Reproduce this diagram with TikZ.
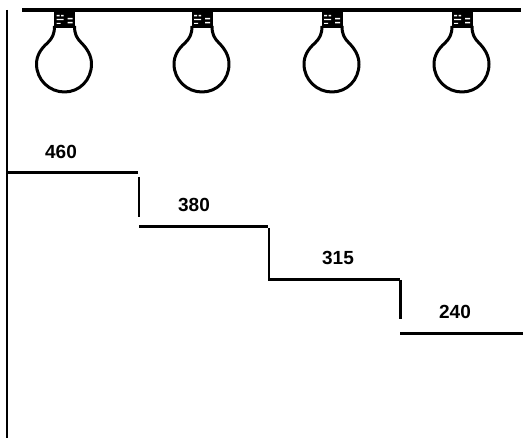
\documentclass[tikz,border=0pt]{standalone}
\usepackage{fontspec}
\setmainfont{Liberation Sans}
\usetikzlibrary{positioning}
\tikzset{
  rail/.style={draw=black, line width=3.6pt},
  axisline/.style={draw=black, line width=2.6pt},
  tread/.style={draw=black, line width=3pt},
  riser/.style={draw=black, line width=2.2pt},
  val/.style={font=\fontsize{19}{19}\selectfont\bfseries, inner sep=0pt},
  bulb/.pic={
    \fill[black] (-10.5,0) rectangle (10.5,17);
    \fill[white] (-8,4) rectangle (-5,5.5) (-3.5,4) rectangle (-1,5.5)
                 (-8,8) rectangle (-1,9.2) (3,7) rectangle (8,8.5)
                 (3,11) rectangle (8,12.5) (-8,12) rectangle (-4,13);
    \draw[black, line width=3pt, line join=round]
      (-10,15) .. controls (-10,23) and (-12,27) .. (-17,32)
      .. controls (-24,38) and (-28,45) .. (-28,53)
      .. controls (-28,69) and (-15,81) .. (0,81)
      .. controls (15,81) and (27,69) .. (27,53)
      .. controls (27,45) and (23,38) .. (17,32)
      .. controls (12,27) and (10,23) .. (10,15);
  },
}
\begin{document}
\begin{tikzpicture}[x=1pt,y=-1pt]
  \useasboundingbox (0,0) rectangle (523,438);
  % lamps
  \coordinate (railL) at (22,10);
  \coordinate (railR) at (521,10);
  \foreach \x/\name in {64.5/lampA,202/lampB,332/lampC,462/lampD}
    \pic (\name) at (\x,11) {bulb};
  \draw[rail] (railL) -- (railR);
  \coordinate (axisT) at (7,10);
  \coordinate (axisB) at (7,438);
  \draw[axisline] (axisT) -- (axisB);
  % steps
  \coordinate (a1) at (8,172.7);
  \coordinate (a2) at (138,172.7);
  \coordinate (b0) at (139,177);
  \coordinate (b1) at (139,217);
  \coordinate (c1) at (139,226.5);
  \coordinate (c2) at (268,226.5);
  \coordinate (d0) at (269,228);
  \coordinate (d1) at (269,280);
  \coordinate (e1) at (268,279.7);
  \coordinate (e2) at (400,279.7);
  \coordinate (f0) at (400.5,280);
  \coordinate (f1) at (400.5,319);
  \coordinate (g1) at (400,333.5);
  \coordinate (g2) at (523,333.5);
  \draw[tread] (a1) -- (a2);
  \draw[riser] (b0) -- (b1);
  \draw[tread] (c1) -- (c2);
  \draw[riser] (d0) -- (d1);
  \draw[tread] (e1) -- (e2);
  \draw[riser] (f0) -- (f1);
  \draw[tread] (g1) -- (g2);
  \node[val] (v460) at (61,152) {460};
  \node[val] (v380) at (194,205) {380};
  \node[val] (v315) at (338,258) {315};
  \node[val] (v240) at (455,312) {240};
\end{tikzpicture}
\end{document}
